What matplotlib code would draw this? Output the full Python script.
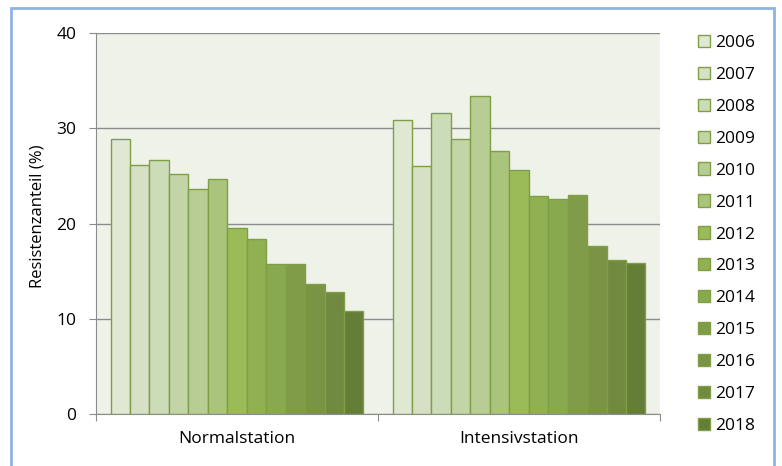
import numpy as np
import matplotlib
matplotlib.use('Agg')
from matplotlib import pyplot as plt
from matplotlib.patches import Patch, Rectangle

plt.rcParams['font.family'] = ['Open Sans', 'DejaVu Sans']

stations = ['Normalstation', 'Intensivstation']
years = ['2006', '2007', '2008', '2009', '2010', '2011', '2012',
         '2013', '2014', '2015', '2016', '2017', '2018']
normal = [28.9, 26.1, 26.7, 25.2, 23.6, 24.7, 19.5, 18.4, 15.8, 15.8, 13.6, 12.8, 10.8]
intensiv = [30.9, 26.0, 31.6, 28.9, 33.4, 27.6, 25.6, 22.9, 22.6, 23.0, 17.6, 16.2, 15.9]
colors = ['#e0e8d4', '#d6e0c6', '#ccdbb8', '#c3d4a6', '#b7cd94', '#aac47c', '#9bbb59',
          '#90b052', '#89a94e', '#819c48', '#7a9344', '#718940', '#647d37']
edge = '#7f9f47'

values = np.array([normal, intensiv])  # shape (stations, years)

fig = plt.figure(figsize=(7.82, 4.66), dpi=100)
ax = fig.add_axes([96/782, 52/466, (660-96)/782, (414-33)/466])
ax.set_facecolor('#eff2e9')

n = len(years)
group = 0.897
w = group/n
x = np.arange(len(stations))
for k in range(n):
    ax.bar(x - group/2 + w*(k+0.5), values[:, k], width=w,
           color=colors[k], edgecolor=edge, linewidth=1, zorder=3)

ax.set_xlim(-0.5, 1.5)
ax.set_ylim(0, 40)
ax.set_yticks([0, 10, 20, 30, 40])
ax.yaxis.grid(True, color='#8c8c8c', linewidth=1, zorder=0)
ax.set_axisbelow(True)
ax.set_xticks([-0.5, 0.5, 1.5])
ax.set_xticklabels([])
ax.set_xticks(x, minor=True)
ax.set_xticklabels(stations, minor=True, fontsize=12.5)
ax.tick_params(axis='x', which='minor', length=0, pad=12)
ax.tick_params(axis='x', which='major', length=5, color='#8c8c8c', direction='out')
ax.tick_params(axis='y', length=5, color='#8c8c8c', labelsize=12.5, pad=9)
for s in ['top', 'right']:
    ax.spines[s].set_visible(False)
for s in ['left', 'bottom']:
    ax.spines[s].set_color('#8c8c8c')
ax.set_ylabel('Resistenzanteil (%)', fontsize=12)
ax.yaxis.set_label_coords(-0.089, 0.518)

handles = [Patch(facecolor=colors[k], edgecolor=edge, linewidth=1) for k in range(n)]
fig.legend(handles, years, loc='upper left', bbox_to_anchor=(689/782, 1 - 26/466),
           frameon=False, fontsize=12.5, handlelength=0.7, handleheight=0.7,
           handletextpad=0.3, labelspacing=0.91, borderpad=0)

fig.patches.append(Rectangle((11/782, -0.05), (774-11)/782, 1.05 - 8/466,
                             transform=fig.transFigure, fill=False,
                             edgecolor='#8db3e2', linewidth=2))

fig.savefig('out.png', dpi=100)
